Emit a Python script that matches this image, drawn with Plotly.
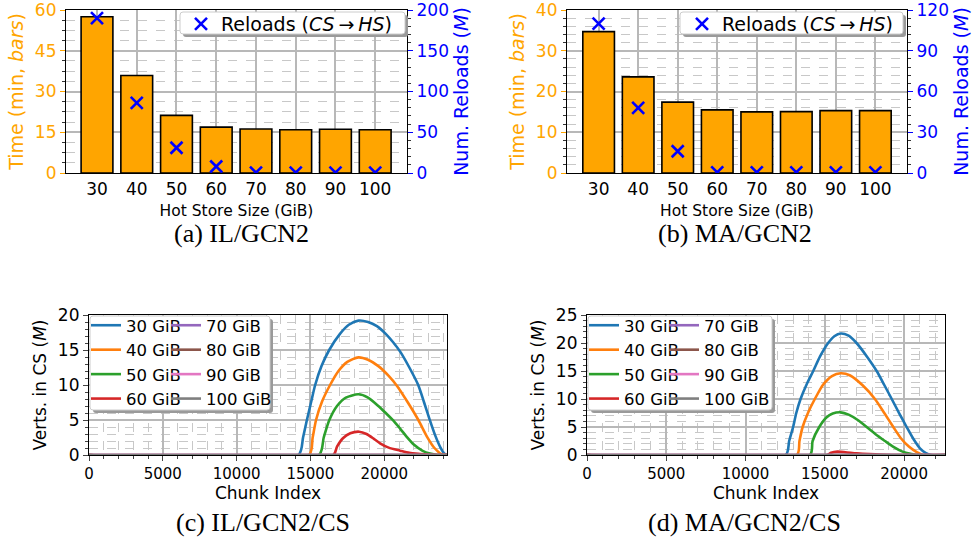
import plotly.graph_objects as go

W, H = 974, 547
def fx(p): return p / W
def fy(p): return 1 - p / H

# ---------------- data ----------------
hot_sizes = ["30", "40", "50", "60", "70", "80", "90", "100"]
il_time = [57.5, 35.9, 21.2, 16.9, 16.2, 15.9, 16.1, 15.9]
il_reloads = [190, 86, 31, 8, 0.5, 0.5, 0.5, 0.5]
ma_time = [34.7, 23.6, 17.4, 15.5, 15.0, 15.05, 15.3, 15.3]
ma_reloads = [110, 48, 16, 0.5, 0.5, 0.5, 0.5, 0.5]

series_names = ["30 GiB", "40 GiB", "50 GiB", "60 GiB", "70 GiB", "80 GiB", "90 GiB", "100 GiB"]
series_colors = ["#1f77b4", "#ff7f0e", "#2ca02c", "#d62728", "#9467bd", "#8c564b", "#e377c2", "#7f7f7f"]

# IL / GCN2 / CS
il_max_chunk = 24250
il_30_x = [0, 14180, 14500, 14760, 15050, 15320, 15750, 16270, 17000, 17600, 18250, 18900, 19500, 20100, 20600, 21100, 21700, 22300, 22700, 23070, 23450, 23800, 24100, 24250]
il_30_y = [0, 0, 2.5, 5, 7.6, 10, 12.7, 15, 17.3, 18.6, 19.2, 19.0, 18.4, 17.3, 16.1, 14.7, 12.5, 10, 7.5, 5.1, 2.8, 1.1, 0.15, 0]
il_40_x = [0, 14900, 15150, 15380, 15800, 16330, 16900, 17500, 18250, 18900, 19600, 20300, 20890, 21600, 22310, 22900, 23400, 23900, 24250]
il_40_y = [0, 0, 2.5, 5, 7.7, 10, 12.0, 13.3, 13.95, 13.6, 12.7, 11.3, 9.8, 7.5, 5, 2.6, 1.0, 0.1, 0]
il_50_x = [0, 15570, 15900, 16280, 16800, 17400, 18250, 18900, 19600, 20100, 20620, 21100, 21520, 22000, 22600, 23100, 23600, 24250]
il_50_y = [0, 0, 2.5, 5, 7.0, 8.2, 8.67, 8.2, 7.0, 6.0, 4.9, 3.7, 2.6, 1.5, 0.6, 0.2, 0, 0]
il_60_x = [0, 16550, 16800, 17200, 17700, 18300, 18800, 19300, 19715, 20300, 21070, 21700, 22430, 23200, 24000, 24250]
il_60_y = [0, 0, 1.2, 2.4, 3.1, 3.33, 3.0, 2.3, 1.67, 1.05, 0.62, 0.3, 0.15, 0.03, 0, 0]
il_flat_x = [0, 24250]
il_flat_y = [0, 0]

# MA / GCN2 / CS
ma_max_chunk = 22580
ma_30_x = [0, 12530, 12750, 13000, 13200, 13470, 13850, 14270, 14700, 15210, 15600, 16000, 16500, 17000, 17650, 18270, 18750, 19220, 19700, 20160, 20600, 21000, 21350, 21700, 22580]
ma_30_y = [0, 0, 2.5, 5, 7.5, 10, 12.6, 15, 17.6, 20, 21.2, 21.7, 21.3, 20, 17.6, 15, 12.5, 10, 7.4, 5, 2.8, 1.2, 0.4, 0, 0]
ma_40_x = [0, 13240, 13400, 13600, 13950, 14370, 14900, 15450, 16000, 16600, 17400, 18160, 18750, 19320, 19800, 20300, 20800, 21200, 22580]
ma_40_y = [0, 0, 2.5, 5, 7.6, 10, 12.6, 14.1, 14.6, 14.2, 12.4, 10, 7.5, 5, 3.0, 1.5, 0.5, 0, 0]
ma_50_x = [0, 14060, 14230, 14650, 15100, 15500, 16000, 16500, 17100, 17640, 18200, 18790, 19300, 19900, 20400, 20800, 22580]
ma_50_y = [0, 0, 2.5, 5, 6.7, 7.4, 7.62, 7.2, 6.2, 5, 3.7, 2.5, 1.5, 0.6, 0.2, 0, 0]
ma_60_x = [0, 15150, 15400, 15800, 16300, 17000, 17800, 18800, 19500, 22580]
ma_60_y = [0, 0, 0.4, 0.6, 0.5, 0.3, 0.15, 0.05, 0, 0]
ma_flat_x = [0, 22580]
ma_flat_y = [0, 0]

il_curves = [(il_30_x, il_30_y), (il_40_x, il_40_y), (il_50_x, il_50_y), (il_60_x, il_60_y),
             (il_flat_x, il_flat_y), (il_flat_x, il_flat_y), (il_flat_x, il_flat_y), (il_flat_x, il_flat_y)]
ma_curves = [(ma_30_x, ma_30_y), (ma_40_x, ma_40_y), (ma_50_x, ma_50_y), (ma_60_x, ma_60_y),
             (ma_flat_x, ma_flat_y), (ma_flat_x, ma_flat_y), (ma_flat_x, ma_flat_y), (ma_flat_x, ma_flat_y)]

# ---------------- style ----------------
FONT = "DejaVu Sans"
ORANGE = "#ffa500"
BLUE = "#0000ff"
GRID = "#b8b8b8"
MINOR_GRID = "#c8c8c8"

fig = go.Figure()

# top bar charts
top_panels = [
    dict(x="x", y="y", y2="y2", time=il_time, rel=il_reloads, legend="legend"),
    dict(x="x2", y="y3", y2="y4", time=ma_time, rel=ma_reloads, legend="legend2"),
]
for p in top_panels:
    fig.add_trace(go.Bar(x=hot_sizes, y=p["time"], xaxis=p["x"], yaxis=p["y"], width=0.8,
                         marker=dict(color=ORANGE, line=dict(color="black", width=1.6)),
                         showlegend=False))
    fig.add_trace(go.Scatter(x=hot_sizes, y=p["rel"], xaxis=p["x"], yaxis=p["y2"], mode="markers",
                             name="Reloads (<i>CS</i>\u2009\u2192\u2009<i>HS</i>)",
                             marker=dict(symbol="x-thin", size=12, color=BLUE,
                                         line=dict(color=BLUE, width=2.6)),
                             legend=p["legend"], showlegend=True))

# bottom line charts
bottom_panels = [
    dict(x="x3", y="y5", curves=il_curves, legs=("legend3", "legend4")),
    dict(x="x4", y="y6", curves=ma_curves, legs=("legend5", "legend6")),
]
for p in bottom_panels:
    for i, (cx, cy) in enumerate(p["curves"]):
        fig.add_trace(go.Scatter(x=cx, y=cy, xaxis=p["x"], yaxis=p["y"], mode="lines",
                                 name=series_names[i],
                                 line=dict(color=series_colors[i], width=2.6, shape="spline", smoothing=0.7),
                                 legend=p["legs"][0] if i < 4 else p["legs"][1]))

# ---------------- axes ----------------
def frame(**kw):
    d = dict(showline=True, mirror=True, linecolor="black", linewidth=1.2, zeroline=False,
             ticks="outside", ticklen=5, tickwidth=1.2, automargin=False, ticklabeloverflow="allow")
    d.update(kw)
    return d

tick17 = dict(family=FONT, size=17, color="black")

layout = dict(
    template="none",
    width=W, height=H, margin=dict(l=0, r=0, t=0, b=0, pad=0, autoexpand=False),
    plot_bgcolor="white", paper_bgcolor="white", font=dict(family=FONT, color="black"),
    showlegend=True,
)

for xa, ya, ya2, x0, x1, ymax, ydt, ymin_dt, rmax, rdt, rmin_dt, rng in [
    ("xaxis", "yaxis", "yaxis2", 66, 407, 60, 15, 3.75, 200, 50, 10, [-0.78, 7.8]),
    ("xaxis2", "yaxis3", "yaxis4", 567, 907, 40, 10, 2, 120, 30, 6, [-0.8, 7.8]),
]:
    yname = "y" if ya == "yaxis" else "y3"
    xname = "x" if xa == "xaxis" else "x2"
    layout[xa] = frame(domain=[fx(x0), fx(x1)], anchor=yname, type="category", range=rng,
                       tickfont=tick17, showgrid=True, gridcolor=GRID, gridwidth=1.6,
                       ticklen=0, tickcolor="black",
                       title=dict(text="Hot Store Size (GiB)", font=dict(family=FONT, size=15.5), standoff=7))
    layout[ya] = frame(domain=[fy(173), fy(10)], anchor=xname, range=[0, ymax], dtick=ydt,
                       tickfont=dict(family=FONT, size=17, color=ORANGE), tickcolor=ORANGE,
                       showgrid=True, gridcolor=GRID, gridwidth=1.6, mirror=False,
                       minor=dict(dtick=ymin_dt, showgrid=True, gridcolor=MINOR_GRID, griddash="dash",
                                  gridwidth=1, ticks="outside", ticklen=3, tickcolor="#333"),
                       title=dict(text="Time (min, <i>bars</i>)", font=dict(family=FONT, size=19, color=ORANGE),
                                  standoff=6))
    layout[ya2] = frame(overlaying=yname, side="right", anchor=xname, range=[0, rmax], dtick=rdt,
                        tickfont=dict(family=FONT, size=17, color=BLUE), tickcolor=BLUE, showgrid=False,
                        mirror=False,
                        minor=dict(dtick=rmin_dt, ticks="outside", ticklen=3, tickcolor="#333"),
                        title=dict(text="Num. Reloads (<i>M</i>)", font=dict(family=FONT, size=19, color=BLUE),
                                   standoff=6))

tick15 = dict(family=FONT, size=15, color="black")
for xa, ya, x0, x1, xmax, ymax in [
    ("xaxis3", "yaxis5", 89, 447, il_max_chunk, 20),
    ("xaxis4", "yaxis6", 587, 945, ma_max_chunk, 25),
]:
    xname = "x3" if xa == "xaxis3" else "x4"
    yname = "y5" if ya == "yaxis5" else "y6"
    layout[xa] = frame(domain=[fx(x0), fx(x1)], anchor=yname, range=[0, xmax], dtick=5000,
                       tickfont=tick15, showgrid=True, gridcolor=GRID, gridwidth=1.6, tickformat="d",
                       minor=dict(dtick=1000, showgrid=True, gridcolor=MINOR_GRID, griddash="dash",
                                  gridwidth=1, ticks="outside", ticklen=3),
                       title=dict(text="Chunk Index", font=dict(family=FONT, size=17), standoff=0))
    layout[ya] = frame(domain=[fy(455), fy(315)], anchor=xname, range=[0, ymax], dtick=5,
                       tickfont=dict(family=FONT, size=17, color="black"), showgrid=True, gridcolor=GRID,
                       gridwidth=1.6,
                       minor=dict(dtick=1, showgrid=True, gridcolor=MINOR_GRID, griddash="dash",
                                  gridwidth=1, ticks="outside", ticklen=3),
                       title=dict(text="Verts. in CS (<i>M</i>)", font=dict(family=FONT, size=17), standoff=6))

# ---------------- legends ----------------
def leg(xpx, ypx, size):
    return dict(x=fx(xpx), y=fy(ypx), xanchor="left", yanchor="top", bgcolor="rgba(0,0,0,0)",
                borderwidth=0, font=dict(family=FONT, size=size, color="black"),
                tracegroupgap=0, itemclick=False, itemdoubleclick=False)

layout["legend"] = leg(181, 5, 19)
layout["legend2"] = leg(682, 5, 19)
layout["legend3"] = leg(86, 308, 16.5)
layout["legend4"] = leg(166, 308, 16.5)
layout["legend5"] = leg(584, 308, 16.5)
layout["legend6"] = leg(664, 308, 16.5)

def rrect(x0, y0, x1, y1, r=3):
    X0, X1 = fx(x0), fx(x1)
    Y0, Y1 = fy(y0), fy(y1)
    rx, ry = r / W, r / H
    return (f"M{X0+rx},{Y0} L{X1-rx},{Y0} Q{X1},{Y0} {X1},{Y0-ry} L{X1},{Y1+ry} Q{X1},{Y1} {X1-rx},{Y1} "
            f"L{X0+rx},{Y1} Q{X0},{Y1} {X0},{Y1+ry} L{X0},{Y0-ry} Q{X0},{Y0} {X0+rx},{Y0} Z")

shapes = []
for (x0, y0, x1, y1) in [(180, 12, 405, 34), (680, 12, 903, 34), (90, 316, 270, 410), (588, 316, 772, 410)]:
    shapes.append(dict(type="path", path=rrect(x0 + 3, y0 + 3, x1 + 3, y1 + 3), xref="paper", yref="paper",
                       fillcolor="#9a9a9a", line=dict(width=0), layer="above"))
    shapes.append(dict(type="path", path=rrect(x0, y0, x1, y1), xref="paper", yref="paper",
                       fillcolor="white", line=dict(color="#cccccc", width=1), layer="above"))
layout["shapes"] = shapes

# ---------------- captions ----------------
SERIF = "Liberation Serif"
captions = [("(a) IL/GCN2", 241, 233), ("(b) MA/GCN2", 735, 233),
            ("(c) IL/GCN2/CS", 263, 522), ("(d) MA/GCN2/CS", 744, 522)]
layout["annotations"] = [dict(text=t, x=fx(cx), y=fy(cy), xref="paper", yref="paper", showarrow=False,
                              xanchor="center", yanchor="middle",
                              font=dict(family=SERIF, size=26, color="black")) for t, cx, cy in captions]

fig.update_layout(**layout)
fig.write_html("out.html")
